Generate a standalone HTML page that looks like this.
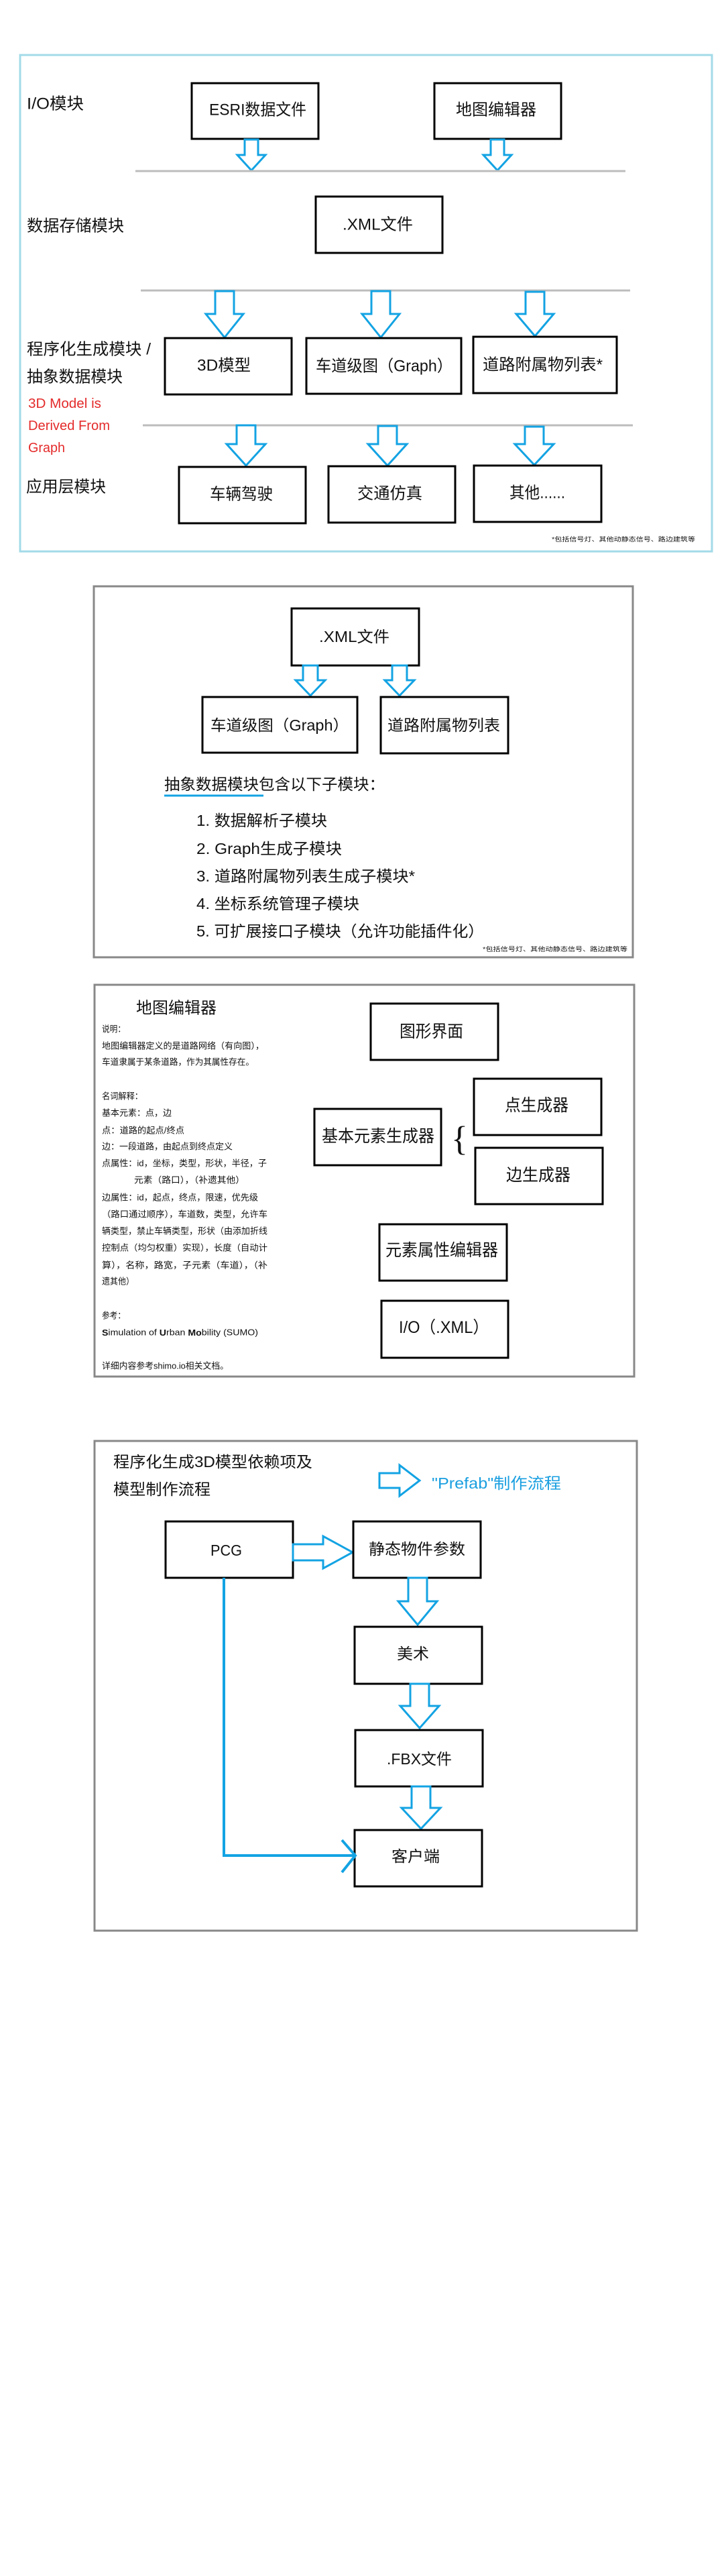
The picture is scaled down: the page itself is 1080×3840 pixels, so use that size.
<!DOCTYPE html>
<html><head><meta charset="utf-8"><style>
html,body{margin:0;padding:0;background:#fff;}
svg{display:block;}
text{font-family:"Liberation Sans","Noto Sans CJK SC",sans-serif;dominant-baseline:central;fill:#111;}
.b{fill:#fff;stroke:#000;stroke-width:3;}
.a{fill:#fff;stroke:#13a3e3;stroke-width:3;stroke-linejoin:miter;}
.g{stroke:#bcbcbc;stroke-width:3;}
.l{font-size:13px;}
</style></head><body>
<svg width="1080" height="3840" viewBox="0 0 1080 3840" xmlns="http://www.w3.org/2000/svg">
<!-- Panel 1 -->
<rect x="30" y="82" width="1032" height="740" fill="none" stroke="#a3dbe8" stroke-width="3"/>
<text x="40" y="155" font-size="24" textLength="85" lengthAdjust="spacingAndGlyphs">I/O模块</text>
<text x="40" y="337" font-size="24" textLength="145" lengthAdjust="spacingAndGlyphs">数据存储模块</text>
<text x="40" y="521" font-size="24" textLength="185" lengthAdjust="spacingAndGlyphs">程序化生成模块 /</text>
<text x="40" y="562" font-size="24" textLength="143" lengthAdjust="spacingAndGlyphs">抽象数据模块</text>
<text x="42" y="602" font-size="20" style="fill:#e42b2b" textLength="109" lengthAdjust="spacingAndGlyphs">3D Model is</text>
<text x="42" y="635" font-size="20" style="fill:#e42b2b" textLength="122" lengthAdjust="spacingAndGlyphs">Derived From</text>
<text x="42" y="668" font-size="20" style="fill:#e42b2b" textLength="55" lengthAdjust="spacingAndGlyphs">Graph</text>
<text x="39" y="726" font-size="24" textLength="119" lengthAdjust="spacingAndGlyphs">应用层模块</text>

<rect class="b" x="286" y="124" width="189" height="83"/>
<text x="312" y="164" font-size="24" textLength="145" lengthAdjust="spacingAndGlyphs">ESRI数据文件</text>
<rect class="b" x="648" y="124" width="189" height="83"/>
<text x="680" y="164" font-size="24" textLength="120" lengthAdjust="spacingAndGlyphs">地图编辑器</text>
<path class="a" d="M365,208 L385,208 L385,231 L396,231 L375,254 L354,231 L365,231 Z"/>
<path class="a" d="M732,208 L752,208 L752,231 L763,231 L742,254 L721,231 L732,231 Z"/>
<line class="g" x1="202" y1="255" x2="933" y2="255"/>
<rect class="b" x="471" y="293" width="189" height="84"/>
<text x="511" y="335" font-size="24" textLength="105" lengthAdjust="spacingAndGlyphs">.XML文件</text>
<line class="g" x1="210" y1="433" x2="940" y2="433"/>
<path class="a" d="M321,434 L349,434 L349,468 L363,468 L335,503 L307,468 L321,468 Z"/>
<path class="a" d="M554,434 L582,434 L582,468 L596,468 L568,503 L540,468 L554,468 Z"/>
<path class="a" d="M784,435 L812,435 L812,468 L826,468 L798,501 L770,468 L784,468 Z"/>
<rect class="b" x="246" y="504" width="189" height="84"/>
<text x="294" y="545" font-size="24" textLength="80" lengthAdjust="spacingAndGlyphs">3D模型</text>
<rect class="b" x="457" y="504" width="231" height="83"/>
<text x="471" y="546" font-size="24" textLength="204" lengthAdjust="spacingAndGlyphs">车道级图（Graph）</text>
<rect class="b" x="706" y="502" width="214" height="84"/>
<text x="720" y="544" font-size="24" textLength="179" lengthAdjust="spacingAndGlyphs">道路附属物列表*</text>
<line class="g" x1="213" y1="634" x2="944" y2="634"/>
<path class="a" d="M353,634 L381,634 L381,662 L396,662 L367,694 L338,662 L353,662 Z"/>
<path class="a" d="M564,635 L592,635 L592,662 L607,662 L578,694 L549,662 L564,662 Z"/>
<path class="a" d="M783,636 L811,636 L811,662 L826,662 L797,693 L768,662 L783,662 Z"/>
<rect class="b" x="267" y="696" width="189" height="84"/>
<text x="313" y="737" font-size="24" textLength="94" lengthAdjust="spacingAndGlyphs">车辆驾驶</text>
<rect class="b" x="490" y="695" width="189" height="84"/>
<text x="533" y="736" font-size="24" textLength="97" lengthAdjust="spacingAndGlyphs">交通仿真</text>
<rect class="b" x="707" y="694" width="190" height="84"/>
<text x="760" y="735" font-size="24" textLength="83" lengthAdjust="spacingAndGlyphs">其他......</text>
<text x="823" y="804" font-size="9" textLength="214" lengthAdjust="spacingAndGlyphs">*包括信号灯、其他动静态信号、路边建筑等</text>

<!-- Panel 2 -->
<rect x="140" y="874" width="804" height="553" fill="none" stroke="#888" stroke-width="3"/>
<rect class="b" x="435" y="907" width="190" height="85"/>
<text x="476" y="949" font-size="23" textLength="105" lengthAdjust="spacingAndGlyphs">.XML文件</text>
<path class="a" d="M452,992 L474,992 L474,1014 L485,1014 L463,1037 L441,1014 L452,1014 Z"/>
<path class="a" d="M585,992 L607,992 L607,1014 L618,1014 L596,1037 L574,1014 L585,1014 Z"/>
<rect class="b" x="302" y="1039" width="231" height="83"/>
<text x="314" y="1081" font-size="23" textLength="206" lengthAdjust="spacingAndGlyphs">车道级图（Graph）</text>
<rect class="b" x="568" y="1039" width="190" height="84"/>
<text x="578" y="1081" font-size="23" textLength="168" lengthAdjust="spacingAndGlyphs">道路附属物列表</text>
<text x="245" y="1169" font-size="23" textLength="329" lengthAdjust="spacingAndGlyphs">抽象数据模块包含以下子模块：</text>
<line x1="245" y1="1186" x2="393" y2="1186" stroke="#13a3e3" stroke-width="3"/>
<text x="293" y="1223" font-size="23" textLength="195" lengthAdjust="spacingAndGlyphs">1. 数据解析子模块</text>
<text x="293" y="1265" font-size="23" textLength="217" lengthAdjust="spacingAndGlyphs">2. Graph生成子模块</text>
<text x="293" y="1306" font-size="23" textLength="326" lengthAdjust="spacingAndGlyphs">3. 道路附属物列表生成子模块*</text>
<text x="293" y="1347" font-size="23" textLength="243" lengthAdjust="spacingAndGlyphs">4. 坐标系统管理子模块</text>
<text x="293" y="1388" font-size="23" textLength="429" lengthAdjust="spacingAndGlyphs">5. 可扩展接口子模块（允许功能插件化）</text>
<text x="720" y="1415" font-size="9" textLength="216" lengthAdjust="spacingAndGlyphs">*包括信号灯、其他动静态信号、路边建筑等</text>

<!-- Panel 3 -->
<rect x="141" y="1468" width="805" height="584" fill="none" stroke="#888" stroke-width="3"/>
<text x="203" y="1503" font-size="24" textLength="120" lengthAdjust="spacingAndGlyphs">地图编辑器</text>
<text class="l" x="152" y="1534" textLength="35" lengthAdjust="spacingAndGlyphs">说明：</text>
<text class="l" x="152" y="1559" textLength="242" lengthAdjust="spacingAndGlyphs">地图编辑器定义的是道路网络（有向图），</text>
<text class="l" x="152" y="1583" textLength="227" lengthAdjust="spacingAndGlyphs">车道隶属于某条道路，作为其属性存在。</text>
<text class="l" x="152" y="1634" textLength="61" lengthAdjust="spacingAndGlyphs">名词解释：</text>
<text class="l" x="152" y="1659" textLength="104" lengthAdjust="spacingAndGlyphs">基本元素：点，边</text>
<text class="l" x="152" y="1685" textLength="123" lengthAdjust="spacingAndGlyphs">点：道路的起点/终点</text>
<text class="l" x="152" y="1709" textLength="195" lengthAdjust="spacingAndGlyphs">边：一段道路，由起点到终点定义</text>
<text class="l" x="152" y="1734" textLength="246" lengthAdjust="spacingAndGlyphs">点属性：id，坐标，类型，形状，半径，子</text>
<text class="l" x="200" y="1759" textLength="165" lengthAdjust="spacingAndGlyphs">元素（路口），（补遗其他）</text>
<text class="l" x="152" y="1785" textLength="233" lengthAdjust="spacingAndGlyphs">边属性：id，起点，终点，限速，优先级</text>
<text class="l" x="152" y="1810" textLength="247" lengthAdjust="spacingAndGlyphs">（路口通过顺序），车道数，类型，允许车</text>
<text class="l" x="152" y="1835" textLength="247" lengthAdjust="spacingAndGlyphs">辆类型，禁止车辆类型，形状（由添加折线</text>
<text class="l" x="152" y="1860" textLength="247" lengthAdjust="spacingAndGlyphs">控制点（均匀权重）实现），长度（自动计</text>
<text class="l" x="152" y="1886" textLength="247" lengthAdjust="spacingAndGlyphs">算），名称，路宽，子元素（车道），（补</text>
<text class="l" x="152" y="1910" textLength="48" lengthAdjust="spacingAndGlyphs">遗其他）</text>
<text class="l" x="152" y="1961" textLength="35" lengthAdjust="spacingAndGlyphs">参考：</text>
<text class="l" x="152" y="1986" textLength="233" lengthAdjust="spacingAndGlyphs"><tspan font-weight="bold">S</tspan>imulation of <tspan font-weight="bold">U</tspan>rban <tspan font-weight="bold">Mo</tspan>bility (SUMO)</text>
<text class="l" x="152" y="2036" textLength="189" lengthAdjust="spacingAndGlyphs">详细内容参考shimo.io相关文档。</text>
<rect class="b" x="553" y="1496" width="190" height="84"/>
<text x="596" y="1538" font-size="25" textLength="95" lengthAdjust="spacingAndGlyphs">图形界面</text>
<rect class="b" x="707" y="1608" width="190" height="84"/>
<text x="753" y="1648" font-size="25" textLength="95" lengthAdjust="spacingAndGlyphs">点生成器</text>
<rect class="b" x="469" y="1653" width="189" height="84"/>
<text x="480" y="1694" font-size="25" textLength="168" lengthAdjust="spacingAndGlyphs">基本元素生成器</text>
<text x="673" y="1698" font-size="52" style="font-family:'Liberation Serif',serif">{</text>
<rect class="b" x="709" y="1711" width="190" height="84"/>
<text x="755" y="1752" font-size="25" textLength="96" lengthAdjust="spacingAndGlyphs">边生成器</text>
<rect class="b" x="566" y="1825" width="190" height="84"/>
<text x="575" y="1864" font-size="25" textLength="168" lengthAdjust="spacingAndGlyphs">元素属性编辑器</text>
<rect class="b" x="569" y="1939" width="189" height="85"/>
<text x="595" y="1979" font-size="25" textLength="134" lengthAdjust="spacingAndGlyphs">I/O（.XML）</text>

<!-- Panel 4 -->
<rect x="141" y="2148" width="809" height="730" fill="none" stroke="#888" stroke-width="3"/>
<text x="169" y="2179" font-size="23" textLength="297" lengthAdjust="spacingAndGlyphs">程序化生成3D模型依赖项及</text>
<text x="169" y="2220" font-size="23" textLength="145" lengthAdjust="spacingAndGlyphs">模型制作流程</text>
<path class="a" d="M566,2196 L596,2196 L596,2184 L626,2207 L596,2230 L596,2218 L566,2218 Z"/>
<text x="644" y="2211" font-size="23" style="fill:#1a9fe0" textLength="193" lengthAdjust="spacingAndGlyphs">"Prefab"制作流程</text>
<rect class="b" x="247" y="2268" width="190" height="84"/>
<text x="314" y="2311" font-size="23" textLength="47" lengthAdjust="spacingAndGlyphs">PCG</text>
<path class="a" d="M437,2302 L482,2302 L482,2290 L526,2314 L482,2338 L482,2326 L437,2326 Z"/>
<rect class="b" x="527" y="2268" width="190" height="84"/>
<text x="550" y="2309" font-size="23" textLength="144" lengthAdjust="spacingAndGlyphs">静态物件参数</text>
<path class="a" d="M609,2352 L637,2352 L637,2387 L652,2387 L623,2422 L594,2387 L609,2387 Z"/>
<rect class="b" x="529" y="2425" width="190" height="85"/>
<text x="592" y="2465" font-size="23" textLength="48" lengthAdjust="spacingAndGlyphs">美术</text>
<path class="a" d="M612,2510 L640,2510 L640,2543 L655,2543 L626,2576 L597,2543 L612,2543 Z"/>
<rect class="b" x="530" y="2579" width="190" height="84"/>
<text x="577" y="2622" font-size="23" textLength="97" lengthAdjust="spacingAndGlyphs">.FBX文件</text>
<path class="a" d="M614,2663 L642,2663 L642,2695 L657,2695 L628,2726 L599,2695 L614,2695 Z"/>
<rect class="b" x="529" y="2728" width="190" height="84"/>
<text x="584" y="2767" font-size="23" textLength="72" lengthAdjust="spacingAndGlyphs">客户端</text>
<polyline points="334,2352 334,2766 530,2766" fill="none" stroke="#13a3e3" stroke-width="4"/>
<polyline points="510,2743 530,2766 510,2791" fill="none" stroke="#13a3e3" stroke-width="4"/>
</svg>
</body></html>
